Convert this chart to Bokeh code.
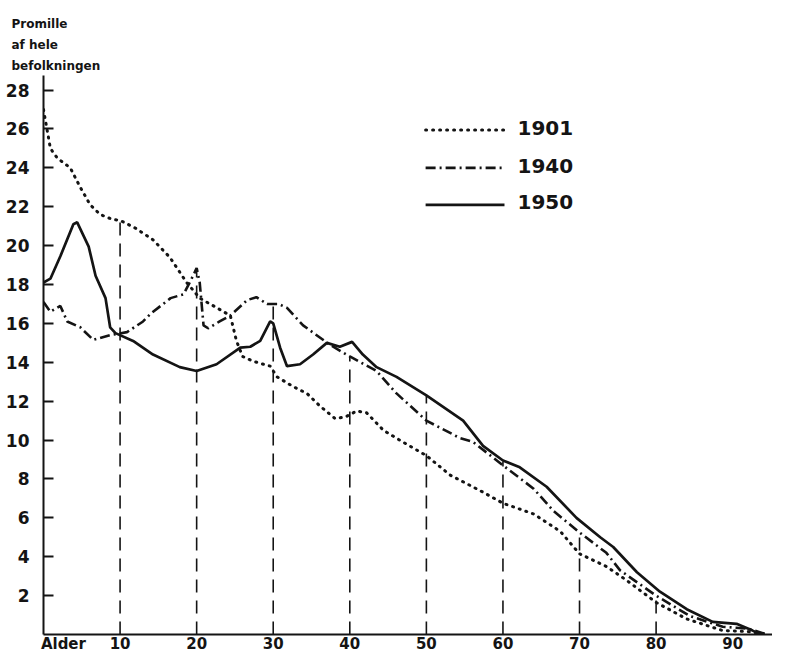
from bokeh.plotting import figure
from bokeh.models import Range1d, FixedTicker, Label, Title
from bokeh.embed import file_html
from bokeh.resources import INLINE

# ---- data (age in years, per mille of whole population) ----
age_1901 = [0, 0.9, 1.8, 3.5, 4.8, 6.1, 7.4, 9, 10, 12, 14.3, 16.5, 18.7, 20.4, 22.2,
            24.4, 25.2, 26, 27.4, 29.6, 30.5, 32.6, 34.4, 36.1, 38.1, 39.5, 40.9, 42.2,
            44.4, 46.5, 50, 53.1, 55.3, 57.5, 60, 64, 67.5, 70, 73.5, 76.1, 80, 84,
            88.7, 92, 94.5]
val_1901 = [27.0, 25.0, 24.5, 24.0, 23.0, 22.1, 21.6, 21.35, 21.3, 20.9, 20.3, 19.4,
            18.1, 17.3, 16.9, 16.4, 15.1, 14.3, 14.05, 13.8, 13.25, 12.75, 12.4, 11.75,
            11.1, 11.2, 11.5, 11.4, 10.5, 10.0, 9.2, 8.2, 7.75, 7.3, 6.75, 6.2, 5.3,
            4.15, 3.5, 2.8, 1.65, 0.8, 0.2, 0.15, 0]

age_1940 = [0, 0.9, 2.2, 3.1, 4.8, 6.5, 8.7, 10.9, 13, 14, 16.6, 18.3, 19.6, 20.0,
            20.4, 20.9, 21.5, 23, 24.4, 26.6, 27.8, 29.2, 30.7, 31.8, 33.9, 37.4, 40,
            43.5, 46.1, 50, 54.4, 56.1, 60, 64, 66.6, 70, 73.5, 75.3, 80, 84.4, 88.7,
            92, 94.5]
val_1940 = [17.1, 16.6, 16.9, 16.1, 15.8, 15.15, 15.4, 15.55, 16.1, 16.5, 17.3, 17.5,
            18.5, 18.85, 18.1, 15.9, 15.75, 16.1, 16.4, 17.2, 17.35, 17.0, 17.0, 16.8,
            15.9, 14.9, 14.3, 13.55, 12.4, 11.0, 10.1, 9.9, 8.7, 7.5, 6.35, 5.25, 4.2,
            3.3, 2.0, 0.95, 0.4, 0.3, 0]

age_1950 = [0, 0.9, 2.2, 3.9, 4.4, 5.9, 6.8, 8.1, 8.7, 9.4, 11.7, 14.3, 17.8, 20,
            22.6, 25.7, 27, 28.3, 29.6, 30, 30.9, 31.8, 33.5, 35.2, 37, 38.7, 40.3,
            41.7, 43.5, 46.1, 50, 54.8, 57.4, 60, 62.2, 65.7, 69.6, 72.7, 74.4, 77.5,
            80.5, 84, 87.4, 90.5, 92.6, 93.7]
val_1950 = [18.1, 18.3, 19.45, 21.1, 21.2, 19.95, 18.45, 17.3, 15.8, 15.5, 15.1, 14.4,
            13.75, 13.55, 13.9, 14.75, 14.8, 15.1, 16.1, 16.0, 14.75, 13.8, 13.9, 14.4,
            15.0, 14.8, 15.05, 14.4, 13.75, 13.25, 12.3, 11.0, 9.7, 8.95, 8.6, 7.6, 6.0,
            5.0, 4.5, 3.2, 2.2, 1.3, 0.65, 0.55, 0.2, 0]

guide_ages = [10, 20, 30, 40, 50, 60, 70, 80]
guide_tops = [21.3, 18.85, 17.0, 14.3, 12.3, 8.9, 5.25, 2.1]

x_ticks = [10, 20, 30, 40, 50, 60, 70, 80, 90]
y_ticks = [2, 4, 6, 8, 10, 12, 14, 16, 18, 20, 22, 24, 26, 28]
series_names = ["1901", "1940", "1950"]
title_lines = ["Promille", "af hele", "befolkningen"]
x_title = "Alder"
x_title_pos = 2.6

FONT = "DejaVu Sans"
INK = "#141414"

p = figure(width=772, height=655, output_backend="svg", toolbar_location=None,
           x_range=Range1d(0, 95.2), y_range=Range1d(0, 28.75),
           min_border_left=43, min_border_right=0, min_border_top=75,
           min_border_bottom=0)
p.outline_line_color = None
p.grid.visible = False
p.background_fill_color = "white"
p.border_fill_color = "white"

# three-line y title above the plot: p.title is outermost, later titles go outward
p.title.text = title_lines[0]
extra = [Title(text=title_lines[2]), Title(text=title_lines[1])]
for t in [p.title] + extra:
    t.text_font = FONT
    t.text_font_style = "bold"
    t.text_font_size = "12px"
    t.text_color = INK
    t.align = "left"
    t.offset = -32
    t.standoff = 5
for t in extra:
    p.add_layout(t, "above")

# axes
p.xaxis.ticker = FixedTicker(ticks=[x_title_pos] + x_ticks)
p.xaxis.major_label_overrides = {x_title_pos: x_title}
p.yaxis.ticker = FixedTicker(ticks=y_ticks)
for ax in (p.xaxis, p.yaxis):
    ax.axis_line_width = 2
    ax.axis_line_color = INK
    ax.major_label_text_font = FONT
    ax.major_label_text_font_style = "bold"
    ax.major_label_text_color = INK
    ax.minor_tick_line_color = None
p.yaxis.major_label_text_font_size = "17px"
p.xaxis.major_label_text_font_size = "15px"
p.yaxis.major_tick_in = 10
p.yaxis.major_tick_out = 0
p.yaxis.major_tick_line_width = 2
p.yaxis.major_tick_line_color = INK
p.yaxis.major_label_standoff = 14
p.xaxis.major_tick_line_color = None
p.xaxis.major_tick_in = 0
p.xaxis.major_tick_out = 0
p.xaxis.major_label_standoff = 0

# guide lines
p.segment(x0=guide_ages, y0=[0] * len(guide_ages), x1=guide_ages, y1=guide_tops,
          line_color=INK, line_width=1.6, line_dash="13 8")

# curves
p.line(age_1901, val_1901, line_color=INK, line_width=3.0, line_dash="1 6",
       line_cap="round")
p.line(age_1940, val_1940, line_color=INK, line_width=2.6, line_dash="10 4 2 4")
p.line(age_1950, val_1950, line_color=INK, line_width=2.7)

# legend (hand drawn like the original)
leg_y = [25.95, 24.0, 22.1]
leg_styles = [dict(line_dash="1 6", line_cap="round", line_width=3.0),
              dict(line_dash="10 4 2 4", line_width=2.6),
              dict(line_width=2.7)]
for name, yy, st in zip(series_names, leg_y, leg_styles):
    p.line([49.9, 60.2], [yy, yy], line_color=INK, **st)
    p.add_layout(Label(x=61.9, y=yy + 0.12, text=name, text_font=FONT,
                       text_font_style="bold", text_font_size="20px",
                       text_color=INK, text_baseline="middle"))

open("out.html", "w").write(file_html(p, INLINE))
